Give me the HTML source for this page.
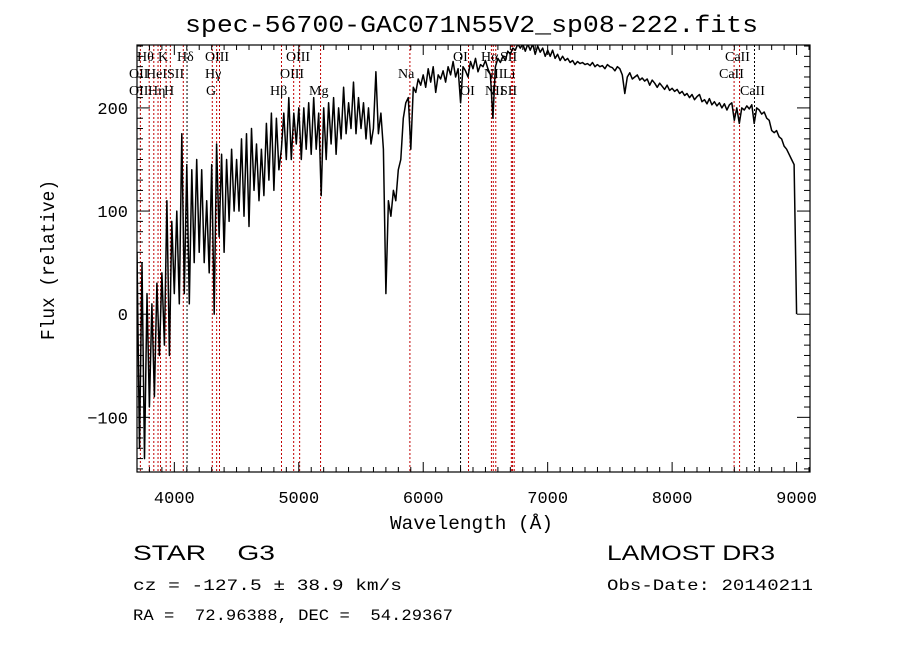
<!DOCTYPE html>
<html><head><meta charset="utf-8"><style>
html,body{margin:0;padding:0;background:#fff;}
svg{display:block;}
text{fill:#000;white-space:pre;}
</style></head><body>
<svg id="chart" width="900" height="649" viewBox="0 0 900 649" xmlns="http://www.w3.org/2000/svg" xml:space="preserve">
<rect x="0" y="0" width="900" height="649" fill="#fff"/>
<defs><clipPath id="plotclip"><rect x="137" y="45" width="673" height="427"/></clipPath></defs>
<text x="185" y="32" font-family="Liberation Mono, monospace" font-size="24" textLength="573" lengthAdjust="spacingAndGlyphs">spec-56700-GAC071N55V2_sp08-222.fits</text>
<g id="lines" clip-path="url(#plotclip)"></g>
<g id="spec" clip-path="url(#plotclip)"></g>
<g id="axes"></g>
<g id="labels" font-family="Liberation Serif, serif" font-size="14"></g>
<text x="390" y="529" font-family="Liberation Mono, monospace" font-size="19" textLength="163" lengthAdjust="spacingAndGlyphs">Wavelength (Å)</text>
<text transform="translate(54,340) rotate(-90)" font-family="Liberation Mono, monospace" font-size="19" textLength="160" lengthAdjust="spacingAndGlyphs">Flux (relative)</text>
<text x="133" y="560" font-family="Liberation Sans, sans-serif" font-size="21" textLength="142" lengthAdjust="spacingAndGlyphs">STAR    G3</text>
<text x="607" y="560" font-family="Liberation Sans, sans-serif" font-size="21" textLength="168" lengthAdjust="spacingAndGlyphs">LAMOST DR3</text>
<text x="133" y="590" font-family="Liberation Mono, monospace" font-size="16" textLength="269" lengthAdjust="spacingAndGlyphs">cz = -127.5 ± 38.9 km/s</text>
<text x="607" y="590" font-family="Liberation Mono, monospace" font-size="16" textLength="206" lengthAdjust="spacingAndGlyphs">Obs-Date: 20140211</text>
<text x="133" y="620" font-family="Liberation Mono, monospace" font-size="16" textLength="320" lengthAdjust="spacingAndGlyphs">RA =  72.96388, DEC =  54.29367</text>
</svg>
<script>
const waveStart = 3700;
const waveStep = 20;
const flux = [
60,-130,50,-140,20, -90,10,-80,30,-40, 40,-30,110,-40,90,
20,100,10,175,20, 145,10,140,50,150, 60,140,50,110,40,
145,0,165,75,155, 60,150,90,160,100, 150,100,170,95,175,
85,180,120,165,110, 160,115,185,130,195, 120,190,140,160,195,
150,210,150,195,165, 200,150,200,160,205, 155,210,160,195,115,
200,150,205,165,210, 155,200,170,220,175, 205,180,225,175,210,
180,205,170,200,165, 180,235,175,195,160, 20,110,95,120,110,
140,150,190,205,210, 160,220,215,228,222, 232,220,238,225,240,
215,232,228,236,225, 240,232,245,230,238, 205,240,236,230,245,
238,248,235,242,240, 246,238,232,190,240, 248,244,250,246,255,
252,258,256,262,258, 262,255,262,256,262, 252,260,254,258,250,
256,250,256,248,252, 246,250,246,248,244, 246,242,245,243,244,
242,243,241,244,240, 242,240,241,238,242, 240,239,236,240,238,
232,214,230,234,228, 230,232,227,229,226, 228,222,227,224,220,
224,221,218,222,217, 219,216,218,214,216, 212,214,210,213,208,
211,213,206,208,204, 209,203,206,202,205, 200,204,198,203,205,
188,200,185,200,198, 202,199,203,185,200, 198,194,196,190,188,
178,176,178,172,170, 163,160,155,150,145, 0];
const lineWaves = [3727,3798,3835,3869,3889,3934,3968,4072,4102,4305,4340,4363,4861,4959,5007,5175,5893,6300,6364,6548,6563,6583,6708,6717,6731,8498,8542,8662];
const lineRed = [1,1,1,1,1,1,1,1,0,1,1,1,1,1,1,1,1,0,1,1,1,1,1,1,1,1,1,0];
const xTicks = [4000,5000,6000,7000,8000,9000];
const yTicks = [-100,0,100,200];

const NS = 'http://www.w3.org/2000/svg';
const L = 137, R = 810, T = 45, B = 472;
const xMin = 3700, xMax = 9108, yMin = -153, yMax = 261;
function xs(w){ return L + (w - xMin) / (xMax - xMin) * (R - L); }
function ys(f){ return B - (f - yMin) / (yMax - yMin) * (B - T); }
function mk(tag, attrs, parent){ const e = document.createElementNS(NS, tag); for (const k in attrs) e.setAttribute(k, attrs[k]); parent.appendChild(e); return e; }

const gl = document.getElementById('lines');
lineWaves.forEach((w, i) => {
  const ln = mk('line', {x1: xs(w), x2: xs(w), y1: T, y2: B, stroke: lineRed[i] ? '#c00000' : '#000', 'stroke-width': 1, 'stroke-dasharray': '2,2'}, gl);
  
  
});

const gs = document.getElementById('spec');
const pts = flux.map((f, i) => xs(waveStart + i * waveStep).toFixed(1) + ',' + ys(f).toFixed(1)).join(' ');
const pl = mk('polyline', {points: pts, fill: 'none', stroke: '#000', 'stroke-width': 1.5, 'stroke-linejoin': 'round'}, gs);



const ga = document.getElementById('axes');
const frame = mk('rect', {x: L, y: T, width: R - L, height: B - T, fill: 'none', stroke: '#000', 'stroke-width': 1.2}, ga);


for (let w = 3700; w <= 9100; w += 100) {
  const major = w % 1000 === 0;
  const len = major ? 10 : 5;
  mk('line', {x1: xs(w), x2: xs(w), y1: B, y2: B - len, stroke: '#000'}, ga);
  mk('line', {x1: xs(w), x2: xs(w), y1: T, y2: T + len, stroke: '#000'}, ga);
}
for (let v = -150; v <= 260; v += 10) {
  const major = v % 100 === 0;
  const len = major ? 13 : 6;
  mk('line', {x1: L, x2: L + len, y1: ys(v), y2: ys(v), stroke: '#000'}, ga);
  mk('line', {x1: R, x2: R - len, y1: ys(v), y2: ys(v), stroke: '#000'}, ga);
}
xTicks.forEach(w => {
  const t = mk('text', {x: xs(w), y: 503, 'text-anchor': 'middle', 'font-family': 'Liberation Mono, monospace', 'font-size': 17}, ga);
  t.textContent = w;
  
  
});
yTicks.forEach(v => {
  const t = mk('text', {x: 128, y: ys(v) + 6, 'text-anchor': 'end', 'font-family': 'Liberation Mono, monospace', 'font-size': 17}, ga);
  t.textContent = v < 0 ? '\u2212' + Math.abs(v) : v;
  
  
});

const lab = document.getElementById('labels');
const labels = [
 ['Hθ',137,61],['K',158,61],['Hδ',177,61],['OIII',205,61],['OIII',286,61],['OI',453,61],['Hα',481,61],['SII',500,61],['CaII',725,61],
 ['OII',129,78],['HeI',146,78],['SII',167,78],['Hγ',205,78],['OIII',280,78],['Na',398,78],['NII',484,78],['Li',503,78],['CaII',719,78],
 ['OII',129,95],['Hη',148,95],['H',164,95],['G',206,95],['Hβ',270,95],['Mg',309,95],['OI',460,95],['NII',485,95],['SII',500,95],['CaII',740,95]
];
labels.forEach(a => {
  const t = mk('text', {x: a[1], y: a[2]}, lab);
  t.textContent = a[0];
  
  
});
</script>
</body></html>
